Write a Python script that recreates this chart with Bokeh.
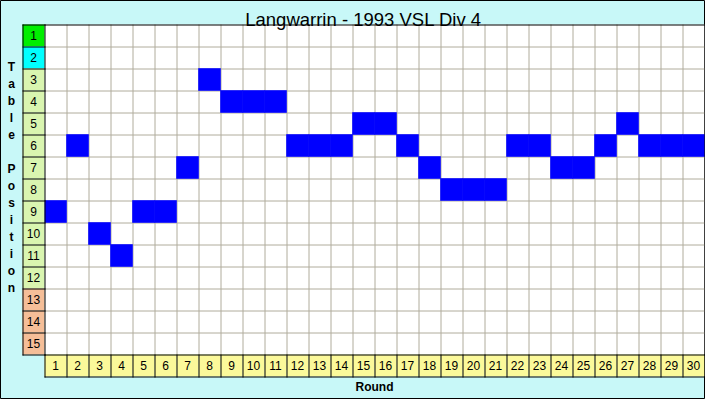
from bokeh.plotting import figure
from bokeh.models import Range1d, ColumnDataSource
from bokeh.core.properties import value
from bokeh.embed import file_html
from bokeh.resources import INLINE

# ---- data ----
title_text = "Langwarrin - 1993 VSL Div 4"
x_label = "Round"
y_label = "Table Position"
rounds = list(range(1, 31))
positions = [9, 6, 10, 11, 9, 9, 7, 3, 4, 4, 4, 6, 6, 6, 5, 5,
             6, 7, 8, 8, 8, 6, 6, 7, 7, 6, 5, 6, 6, 6]
table_rows = list(range(1, 16))
row_colors = (["#00EE00", "#00FFFF"] + ["#D9F5B0"] * 10 + ["#F5BE98"] * 3)

n_rounds = len(rounds)
n_rows = len(table_rows)

W, H = 705, 399
CELL = 22
GX, GY = 44, 24          # pixel origin of the grid
HP = 0.5 / CELL          # half-pixel shift so 1px lines are crisp

BG = "#C8F8F8"
GRID = "#B0AC9C"
FONT = value("Liberation Sans")

p = figure(width=W, height=H, output_backend="svg", toolbar_location=None,
           x_axis_type=None, y_axis_type=None, min_border=0,
           x_range=Range1d(-GX / CELL, (W - GX) / CELL),
           y_range=Range1d((H - GY) / CELL, -GY / CELL))
p.background_fill_color = BG
p.border_fill_color = BG
p.outline_line_color = "black"
p.outline_line_width = 1
p.xgrid.visible = False
p.ygrid.visible = False


def lines(x0, x1, y0, y1, color):
    p.segment(x0=[v + HP for v in x0], x1=[v + HP for v in x1],
              y0=[v + HP for v in y0], y1=[v + HP for v in y1],
              line_color=color, line_width=1, line_cap="square")


# white grid area
p.quad(left=[0], right=[n_rounds], top=[0], bottom=[n_rows],
       fill_color="white", line_color=None)

# grid lines
vx = list(range(1, n_rounds))
lines(vx, vx, [0] * len(vx), [n_rows] * len(vx), GRID)
hy = list(range(1, n_rows))
lines([0] * len(hy), [n_rounds] * len(hy), hy, hy, GRID)

# position cells
pos_src = ColumnDataSource(dict(
    left=[r - 1 for r in rounds], right=rounds,
    top=[q - 1 for q in positions], bottom=positions))
p.quad(left="left", right="right", top="top", bottom="bottom",
       source=pos_src, fill_color="#0000FF", line_color="#0000FF", line_width=0.6)

# table-position label column
row_src = ColumnDataSource(dict(
    top=[t - 1 for t in table_rows], bottom=table_rows,
    color=row_colors, txt=[str(t) for t in table_rows],
    y=[t - 0.5 for t in table_rows], x=[-0.5] * n_rows))
p.quad(left=-1, right=0, top="top", bottom="bottom", source=row_src,
       fill_color="color", line_color=None)
p.text(x="x", y="y", text="txt", source=row_src, text_font=FONT,
       text_font_size="12px", text_color="black", text_align="center",
       text_baseline="middle")

# round label row
rnd_src = ColumnDataSource(dict(
    left=[r - 1 for r in rounds], right=rounds,
    txt=[str(r) for r in rounds], x=[r - 0.5 for r in rounds],
    y=[n_rows + 0.5] * n_rounds))
p.quad(left="left", right="right", top=n_rows, bottom=n_rows + 1, source=rnd_src,
       fill_color="#FBF99A", line_color=None)
p.text(x="x", y="y", text="txt", source=rnd_src, text_font=FONT,
       text_font_size="12px", text_color="black", text_align="center",
       text_baseline="middle")

# black borders: label column, round row and grid top
ry = list(range(0, n_rows + 1))
lines([-1] * len(ry), [0] * len(ry), ry, ry, "black")
lines([-1, 0], [-1, 0], [0, 0], [n_rows, n_rows], "black")
lines([0], [n_rounds], [0], [0], "black")
cx = list(range(0, n_rounds + 1))
lines(cx, cx, [n_rows] * len(cx), [n_rows + 1] * len(cx), "black")
lines([0, 0], [n_rounds, n_rounds], [n_rows, n_rows + 1], [n_rows, n_rows + 1], "black")
lines([n_rounds], [n_rounds], [0], [n_rows], "black")

# title
p.text(x=[(n_rounds - 1) / 2], y=[-5 / CELL], text=[title_text], text_font=FONT,
       text_font_size="18.5px", text_color="black", text_align="center",
       text_baseline="alphabetic")

# x axis label
p.text(x=[n_rounds / 2], y=[(386 - GY) / CELL], text=[x_label], text_font=FONT,
       text_font_size="12px", text_font_style="bold", text_color="black",
       text_align="center", text_baseline="middle")

# vertical y label, one letter per line
letters = list(y_label)
p.text(x=[(11 - GX) / CELL] * len(letters),
       y=[(66 - GY) / CELL + i * 17 / CELL for i in range(len(letters))],
       text=letters, text_font=FONT, text_font_size="12px",
       text_font_style="bold", text_color="black", text_align="center",
       text_baseline="middle")

open("out.html", "w").write(file_html(p, INLINE))
